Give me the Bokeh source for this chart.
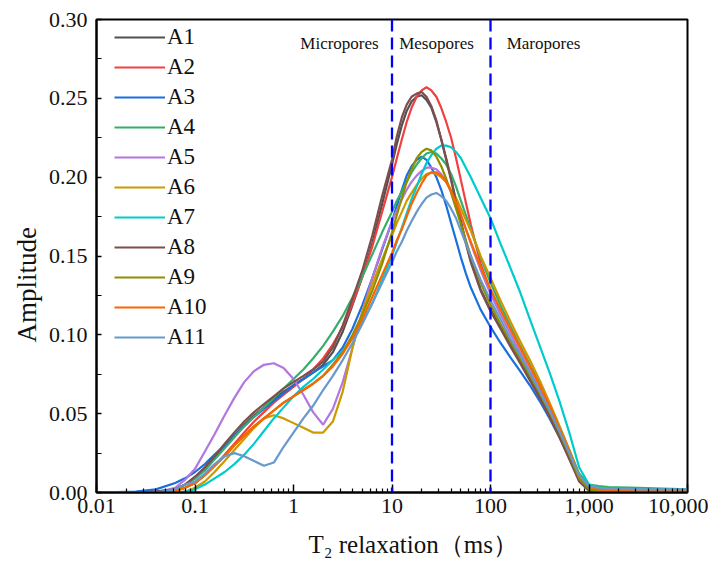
from bokeh.plotting import figure
from bokeh.models import (Span, Label, Legend, LegendItem, NumeralTickFormatter,
                          CustomJSTickFormatter, FixedTicker, Title)
from bokeh.embed import file_html
from bokeh.resources import INLINE

# ---------------- data ----------------
t2_ms = [0.01, 0.025, 0.04, 0.063, 0.079, 0.1, 0.126, 0.158, 0.2, 0.251,
         0.316, 0.398, 0.501, 0.631, 0.794, 1.0, 1.26, 1.58, 2.0, 2.51,
         3.16, 3.98, 5.01, 6.31, 7.94,
         10.0, 11.2, 12.6, 14.1, 15.8, 17.8, 20.0, 22.4, 25.1, 28.2,
         31.6, 35.5, 39.8, 44.7, 50.1, 56.2, 63.1,
         79.4, 100.0, 126, 158, 200, 251,
         316, 398, 501, 631, 794, 1000, 1259, 1585, 3162, 10000]

A1 = [0, 0, 0.0005, 0.002, 0.005, 0.009, 0.015, 0.022, 0.029, 0.036,
      0.043, 0.049, 0.054, 0.059, 0.064, 0.068, 0.072, 0.076, 0.081, 0.089,
      0.102, 0.119, 0.137, 0.158, 0.183,
      0.208, 0.221, 0.233, 0.242, 0.248, 0.251, 0.252, 0.249, 0.244, 0.235,
      0.224, 0.212, 0.199, 0.185, 0.172, 0.159, 0.147,
      0.129, 0.116, 0.105, 0.095, 0.084, 0.073,
      0.062, 0.050, 0.037, 0.023, 0.009, 0.002, 0.0005, 0, 0, 0]
A2 = [0, 0, 0, 0.001, 0.003, 0.006, 0.011, 0.017, 0.024, 0.031,
      0.038, 0.045, 0.051, 0.057, 0.062, 0.067, 0.072, 0.078, 0.085, 0.094,
      0.105, 0.120, 0.137, 0.156, 0.178,
      0.200, 0.212, 0.224, 0.235, 0.244, 0.251, 0.255, 0.257, 0.255, 0.251,
      0.244, 0.235, 0.225, 0.212, 0.198, 0.184, 0.170,
      0.145, 0.128, 0.116, 0.104, 0.092, 0.080,
      0.068, 0.055, 0.041, 0.026, 0.011, 0.004, 0.002, 0.0015, 0.001, 0.001]
A3 = [0, 0.0005, 0.002, 0.006, 0.009, 0.013, 0.018, 0.024, 0.030, 0.036,
      0.042, 0.048, 0.053, 0.058, 0.063, 0.068, 0.072, 0.076, 0.080, 0.084,
      0.092, 0.104, 0.119, 0.136, 0.154,
      0.172, 0.182, 0.192, 0.201, 0.207, 0.211, 0.213, 0.211, 0.206, 0.200,
      0.192, 0.182, 0.171, 0.160, 0.149, 0.139, 0.130,
      0.116, 0.105, 0.095, 0.086, 0.077, 0.068,
      0.058, 0.047, 0.035, 0.022, 0.009, 0.003, 0.002, 0.0015, 0.001, 0.001]
A4 = [0, 0, 0, 0.002, 0.005, 0.009, 0.014, 0.021, 0.028, 0.035,
      0.042, 0.048, 0.054, 0.060, 0.066, 0.072, 0.078, 0.085, 0.093, 0.102,
      0.112, 0.124, 0.137, 0.151, 0.165,
      0.178, 0.185, 0.191, 0.197, 0.203, 0.208, 0.212, 0.215, 0.216, 0.215,
      0.212, 0.208, 0.202, 0.194, 0.185, 0.176, 0.167,
      0.149, 0.133, 0.119, 0.106, 0.093, 0.081,
      0.069, 0.056, 0.042, 0.027, 0.012, 0.005, 0.004, 0.0035, 0.003, 0.002]
A5 = [0, 0, 0, 0.003, 0.008, 0.015, 0.026, 0.037, 0.049, 0.060,
      0.070, 0.077, 0.081, 0.082, 0.079, 0.072, 0.062, 0.051, 0.043, 0.053,
      0.070, 0.092, 0.115, 0.136, 0.155,
      0.172, 0.179, 0.186, 0.192, 0.197, 0.201, 0.204, 0.206, 0.206, 0.205,
      0.202, 0.197, 0.191, 0.184, 0.176, 0.167, 0.158,
      0.141, 0.126, 0.113, 0.101, 0.089, 0.077,
      0.066, 0.053, 0.039, 0.025, 0.010, 0.003, 0.002, 0.0015, 0.001, 0.001]
A6 = [0, 0, 0, 0, 0.0005, 0.003, 0.007, 0.013, 0.020, 0.027,
      0.034, 0.041, 0.047, 0.049, 0.047, 0.044, 0.041, 0.038, 0.038, 0.045,
      0.064, 0.092, 0.115, 0.132, 0.148,
      0.163, 0.171, 0.178, 0.185, 0.190, 0.195, 0.199, 0.202, 0.203, 0.202,
      0.200, 0.197, 0.192, 0.187, 0.180, 0.173, 0.166,
      0.150, 0.136, 0.122, 0.109, 0.096, 0.084,
      0.071, 0.057, 0.042, 0.027, 0.011, 0.003, 0.001, 0.0005, 0, 0]
A7 = [0, 0, 0, 0, 0.0005, 0.002, 0.005, 0.009, 0.013, 0.018,
      0.024, 0.031, 0.039, 0.047, 0.054, 0.061, 0.067, 0.072, 0.078, 0.084,
      0.090, 0.098, 0.108, 0.120, 0.135,
      0.150, 0.159, 0.168, 0.177, 0.186, 0.194, 0.202, 0.209, 0.214, 0.218,
      0.220, 0.220, 0.219, 0.216, 0.212, 0.206, 0.200,
      0.187, 0.174, 0.158, 0.143, 0.127, 0.110,
      0.093, 0.076, 0.058, 0.038, 0.016, 0.005, 0.003, 0.0025, 0.002, 0.002]
A8 = [0, 0, 0.0005, 0.002, 0.005, 0.010, 0.016, 0.023, 0.031, 0.038,
      0.045, 0.051, 0.056, 0.061, 0.066, 0.070, 0.074, 0.078, 0.083, 0.092,
      0.106, 0.123, 0.141, 0.163, 0.188,
      0.211, 0.226, 0.238, 0.246, 0.251, 0.253, 0.254, 0.251, 0.245, 0.236,
      0.224, 0.211, 0.198, 0.184, 0.171, 0.158, 0.146,
      0.128, 0.115, 0.104, 0.093, 0.082, 0.071,
      0.060, 0.048, 0.035, 0.021, 0.007, 0.001, 0, 0, 0, 0]
A9 = [0, 0, 0, 0.001, 0.003, 0.006, 0.011, 0.017, 0.023, 0.030,
      0.036, 0.042, 0.047, 0.052, 0.057, 0.061, 0.065, 0.069, 0.074, 0.081,
      0.089, 0.100, 0.113, 0.128, 0.145,
      0.165, 0.176, 0.187, 0.197, 0.205, 0.212, 0.216, 0.218, 0.217, 0.213,
      0.207, 0.199, 0.190, 0.180, 0.170, 0.160, 0.150,
      0.133, 0.119, 0.107, 0.096, 0.085, 0.074,
      0.063, 0.051, 0.038, 0.024, 0.009, 0.002, 0.001, 0.0005, 0, 0]
A10 = [0, 0, 0, 0.001, 0.003, 0.006, 0.011, 0.017, 0.023, 0.030,
       0.036, 0.042, 0.047, 0.052, 0.057, 0.061, 0.065, 0.069, 0.074, 0.080,
       0.088, 0.098, 0.110, 0.124, 0.138,
       0.152, 0.160, 0.167, 0.175, 0.183, 0.190, 0.196, 0.201, 0.203, 0.203,
       0.201, 0.197, 0.191, 0.184, 0.176, 0.167, 0.159,
       0.143, 0.129, 0.116, 0.104, 0.092, 0.080,
       0.068, 0.055, 0.041, 0.026, 0.011, 0.004, 0.002, 0.0015, 0.001, 0.001]
A11 = [0, 0, 0, 0.002, 0.005, 0.007, 0.012, 0.018, 0.023, 0.025,
       0.023, 0.020, 0.017, 0.019, 0.029, 0.038, 0.047, 0.055, 0.065, 0.074,
       0.084, 0.095, 0.107, 0.120, 0.133,
       0.146, 0.153, 0.159, 0.166, 0.172, 0.178, 0.183, 0.187, 0.189, 0.190,
       0.188, 0.185, 0.180, 0.174, 0.166, 0.158, 0.150,
       0.135, 0.122, 0.110, 0.098, 0.087, 0.076,
       0.064, 0.052, 0.039, 0.025, 0.011, 0.004, 0.003, 0.0025, 0.002, 0.002]

series_names = ["A1", "A2", "A3", "A4", "A5", "A6", "A7", "A8", "A9", "A10", "A11"]
series_values = [A1, A2, A3, A4, A5, A6, A7, A8, A9, A10, A11]
series_colors = ["#515151", "#F14040", "#1A6FDF", "#37AD6B", "#B177DE", "#CC9900",
                 "#00CBCC", "#7D4E4E", "#8E8E00", "#FB6501", "#6699CC"]

pore_bounds_ms = [10, 100]
region_names = ["Micropores", "Mesopores", "Maropores"]
region_label_x = [2.93, 28.3, 345]
region_label_y = 0.285

x_ticks = [0.01, 0.1, 1, 10, 100, 1000, 10000]
x_tick_labels = ["0.01", "0.1", "1", "10", "100", "1,000", "10,000"]
y_ticks = [0.0, 0.05, 0.10, 0.15, 0.20, 0.25, 0.30]
y_minor_ticks = [0.025, 0.075, 0.125, 0.175, 0.225, 0.275]

x_title = "T\u2082 relaxation\uff08ms\uff09"
y_title = "Amplitude"

FONT = "Liberation Serif"

# ---------------- figure ----------------
p = figure(width=708, height=570, x_axis_type="log",
           x_range=(0.01, 10000), y_range=(0, 0.30),
           output_backend="svg", toolbar_location=None,
           min_border_left=96, min_border_right=21,
           min_border_top=19, min_border_bottom=77)
p.background_fill_color = "white"
p.border_fill_color = "white"
p.outline_line_color = "black"
p.outline_line_width = 2
p.xgrid.visible = False
p.ygrid.visible = False

items = []
for name, vals, col in zip(series_names, series_values, series_colors):
    r = p.line(t2_ms, vals, line_color=col, line_width=2.2)
    items.append(LegendItem(label=name, renderers=[r]))

for b in pore_bounds_ms:
    p.add_layout(Span(location=b, dimension="height", line_color="#0000FF",
                      line_width=2.3, line_dash="12 6"))

for txt, xv in zip(region_names, region_label_x):
    p.add_layout(Label(x=xv, y=region_label_y, text=txt, text_align="center",
                       text_baseline="middle", text_font=FONT,
                       text_font_size="17px", text_color="#111111"))

legend = Legend(items=items, location=(18, 140), orientation="vertical",
                padding=0, margin=0, spacing=0,
                glyph_width=51, glyph_height=30, label_height=30,
                label_standoff=2, label_text_font=FONT,
                label_text_font_size="23px", label_text_color="#111111",
                border_line_color=None, background_fill_alpha=0)
p.add_layout(legend)

# axes
xa = p.xaxis[0]
xa.ticker = FixedTicker(ticks=x_ticks,
                        minor_ticks=[m * 10.0 ** k for k in range(-2, 4) for m in range(2, 10)])
xa.formatter = CustomJSTickFormatter(args=dict(xt=x_ticks, xl=x_tick_labels), code="""
const i = xt.findIndex(t => Math.abs(t - tick) <= 1e-9 * Math.max(1, t));
return i >= 0 ? xl[i] : '';
""")
ya = p.yaxis[0]
ya.ticker = FixedTicker(ticks=y_ticks, minor_ticks=y_minor_ticks)
ya.formatter = NumeralTickFormatter(format="0.00")

for ax in (xa, ya):
    ax.axis_line_width = 2
    ax.axis_line_color = "black"
    ax.major_tick_line_color = "black"
    ax.minor_tick_line_color = "black"
    ax.major_tick_line_width = 1.5
    ax.minor_tick_line_width = 1.2
    ax.major_tick_out = 0
    ax.minor_tick_out = 0
    ax.major_label_text_font = FONT
    ax.major_label_text_font_size = "22px"
    ax.major_label_text_color = "#111111"

xa.major_tick_in = 8
xa.minor_tick_in = 4
ya.major_tick_in = 5
ya.minor_tick_in = 5
xa.major_label_standoff = 6
ya.major_label_standoff = 9

# axis titles as side titles, shifted to where the reference shows them
p.add_layout(Title(text=y_title, align="left", offset=150, standoff=8,
                   text_font=FONT, text_font_size="27px", text_font_style="normal",
                   text_color="#111111"), "left")
p.add_layout(Title(text=x_title, align="left", offset=212, standoff=26,
                   text_font=FONT, text_font_size="25px", text_font_style="normal",
                   text_color="#111111"), "below")

open("out.html", "w").write(file_html(p, INLINE))
